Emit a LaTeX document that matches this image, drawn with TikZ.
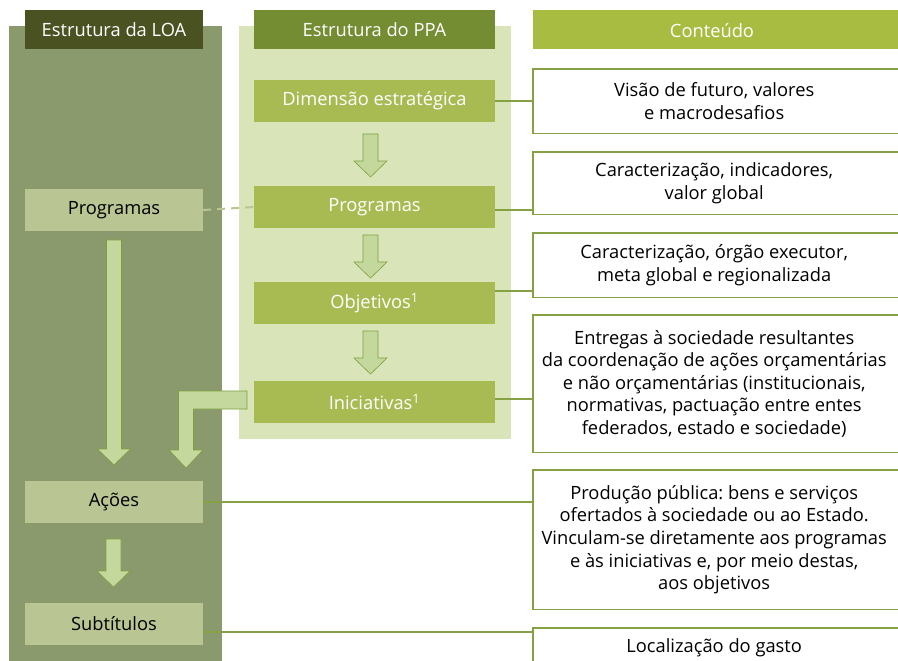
\documentclass[tikz,border=0pt]{standalone}
\usepackage{fontspec}
\setmainfont{Open Sans}
\frenchspacing
\definecolor{loabg}{HTML}{8A9A6C}
\definecolor{loahead}{HTML}{4A5222}
\definecolor{loabox}{HTML}{B9C592}
\definecolor{ppabg}{HTML}{D9E5B8}
\definecolor{ppahead}{HTML}{748C32}
\definecolor{ppabox}{HTML}{A7BB52}
\definecolor{conthead}{HTML}{A8BC42}
\definecolor{contline}{HTML}{86A044}
\definecolor{arrfill}{HTML}{C4D89E}
\definecolor{arrline}{HTML}{7EA03C}
\newcommand\BlockDown[3]{%
  \filldraw[blockarrow] ({#1-7.5},#2) -- ({#1+7.5},#2) -- ({#1+7.5},{#3-16}) -- ({#1+16.5},{#3-16}) -- (#1,#3) -- ({#1-16.5},{#3-16}) -- ({#1-7.5},{#3-16}) -- cycle;}
\tikzset{
  txt/.style={font=\fontsize{18.3}{22.6}\selectfont, align=center, inner sep=0pt},
  loahd/.style={txt, fill=loahead, text=white, minimum width=178pt, minimum height=39pt},
  ppahd/.style={txt, fill=ppahead, text=white, minimum width=241pt, minimum height=39pt},
  conthd/.style={txt, fill=conthead, text=white, minimum width=380pt, minimum height=39pt},
  loabx/.style={txt, fill=loabox, text=black, minimum width=178pt, minimum height=42pt},
  ppabx/.style={txt, fill=ppabox, text=white, minimum width=241pt, minimum height=42pt},
  ctext/.style={txt, text=black, minimum width=362pt, anchor=north west},
  cbord/.style={draw=contline, line width=1.3pt},
  link/.style={draw=contline, line width=1.2pt},
  dlink/.style={draw=loabox, line width=2pt, dash pattern=on 8pt off 6pt},
  blockarrow/.style={fill=arrfill, draw=arrline, line width=0.6pt, line join=miter},
}
\begin{document}
\begin{tikzpicture}[x=1pt,y=-1pt]
\useasboundingbox (0,0) rectangle (898,661);
\clip (0,0) rectangle (898,661);
% backgrounds
\fill[loabg] (9,26) rectangle (222,670);
\fill[ppabg] (239,26) rectangle (511,439);
% headers
\node[loahd] (hloa) at (114,29.5) {Estrutura da LOA};
\node[ppahd] (hppa) at (374.5,29.5) {Estrutura do PPA};
\node[conthd] (hcont) at (723,29.5) {};
\node[txt, text=white] (hconttxt) at (712,31) {Conteúdo};
% PPA boxes
\node[ppabx] (dim) at (374.5,101) {Dimensão estratégica};
\node[ppabx] (pprog) at (374.5,207) {Programas};
\node[ppabx] (obj) at (374.5,303) {Objetivos\textsuperscript{1}};
\node[ppabx] (ini) at (374.5,402) {Iniciativas\textsuperscript{1}};
% LOA boxes
\node[loabx] (lprog) at (114,210) {Programas};
\node[loabx] (acoes) at (114,502) {Ações};
\node[loabx] (sub) at (114,624) {Subtítulos};
% content boxes
\node[ctext, minimum height=64pt] (c1) at (533,69) {Visão de futuro, valores\\e macrodesafios};
\node[ctext, minimum height=62pt] (c2) at (533,152) {Caracterização, indicadores,\\valor global};
\node[ctext, minimum height=64pt] (c3) at (533,233) {Caracterização, órgão executor,\\meta global e regionalizada};
\node[ctext, minimum height=137pt] (c4) at (533,315) {Entregas à sociedade resultantes\\da coordenação de ações orçamentárias\\e não orçamentárias (institucionais,\\normativas, pactuação entre entes\\federados, estado e sociedade)};
\node[ctext, minimum height=139pt] (c5) at (533,470) {Produção pública: bens e serviços\\ofertados à sociedade ou ao Estado.\\Vinculam-se diretamente aos programas\\e às iniciativas e, por meio destas,\\aos objetivos};
\node[ctext, minimum height=40pt] (c6) at (533,628) {Localização do gasto};
\foreach \n in {c1,c2,c3,c4,c5,c6}
  \draw[cbord] (\n.north west) rectangle ([xshift=20pt]\n.south east);
% connectors
\draw[link] (dim.east) -- (dim.east -| c1.west);
\draw[link] ([yshift=-3pt]pprog.east) -- ([yshift=-3pt]pprog.east -| c2.west);
\draw[link] ([yshift=12pt]obj.east) -- ([yshift=12pt]obj.east -| c3.west);
\draw[link] ([yshift=3pt]ini.east) -- ([yshift=3pt]ini.east -| c4.west);
\draw[link] (acoes.east) -- (acoes.east -| c5.west);
\draw[link] ([yshift=-8pt]sub.east) -- ([yshift=-8pt]sub.east -| c6.west);
\draw[dlink] (lprog.east) -- (pprog.west);
% block arrows in PPA
\BlockDown{370.5}{134}{177}
\BlockDown{370.5}{235}{278}
\BlockDown{370.5}{331}{374}
% block arrows in LOA
\BlockDown{114}{240}{465}
\BlockDown{113.5}{539}{587}
% bent arrow from Iniciativas
\filldraw[blockarrow] (247,391) -- (247,409) -- (193.5,409) -- (193.5,450) -- (203,450) -- (186,468) -- (169,450) -- (178.5,450) -- (178.5,391) -- cycle;
\end{tikzpicture}
\end{document}
